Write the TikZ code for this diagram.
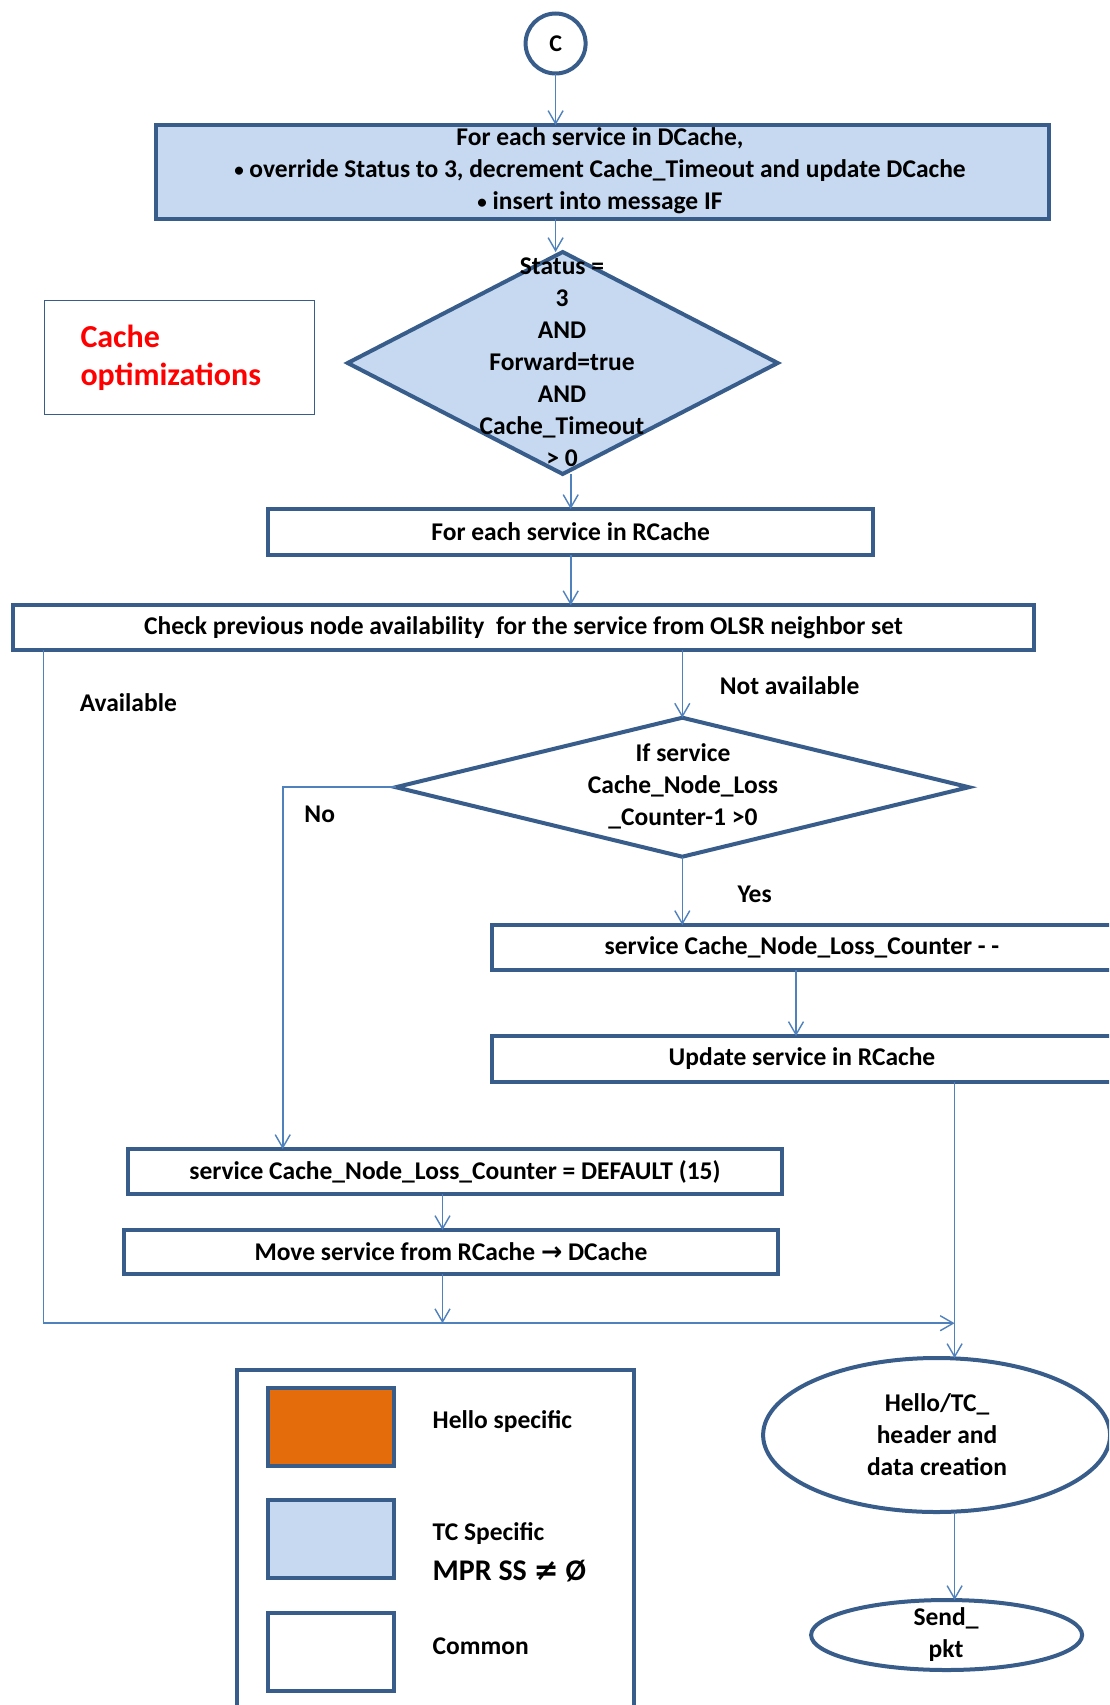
\documentclass[tikz,border=0pt]{standalone}
\usepackage{fontspec}
\setmainfont{Carlito}
\newfontfamily\symfont{DejaVu Sans}
\usetikzlibrary{arrows.meta,shapes.geometric,calc}
\definecolor{edgeblue}{HTML}{385D8A}
\definecolor{fillblue}{HTML}{C6D9F1}
\definecolor{lineblue}{HTML}{4F81BD}
\definecolor{helloorange}{HTML}{E46C0A}
\newcommand\smallbul{\raisebox{0.12ex}{\fontsize{19}{19}\selectfont•}}
\begin{document}
\begin{tikzpicture}[x=1pt,y=-1pt,
  every node/.style={font=\fontsize{25.5}{32}\selectfont\bfseries, inner sep=0pt, outer sep=0pt},
  procbox/.style={draw=edgeblue, line width=4pt, rectangle},
  tcbox/.style={procbox, fill=fillblue},
  flow/.style={draw=lineblue, line width=1.6pt, -{Straight Barb[length=13pt,width=15pt,line width=1.4pt]}},
  plain/.style={draw=lineblue, line width=1.6pt},
  txt/.style={align=center},
  lbl/.style={anchor=west}
]
\useasboundingbox (0,0) rectangle (1109,1705);
\clip (0,0) rectangle (1109,1705);
\fill[white] (0,0) rectangle (1109,1705);

% entry connector
\node[procbox, circle, minimum size=60pt, font=\fontsize{24}{28}\selectfont\bfseries] (c) at (555.6,43.5) {C};

% DCache pass
\node[tcbox, minimum width=893pt, minimum height=94pt] (dc) at (602.5,172) {};
\node[txt] (dct) at (600,171) {For each service in DCache,\\ \smallbul\ override Status to 3, decrement Cache\_Timeout and update DCache\\ \smallbul\ insert into message IF};

% first decision
\node[tcbox, diamond, minimum width=430pt, minimum height=222pt] (d1) at (562.7,363) {};
\node[txt] (d1t) at (562,362.6) {Status =\\ 3\\ AND\\ Forward=true\\ AND\\ Cache\_Timeout\\ > 0};

% note box
\node[draw=edgeblue, line width=1.6pt, minimum width=270pt, minimum height=114pt] (note) at (179.4,357.6) {};
\node[anchor=west, align=left, text=red, font=\fontsize{32}{38}\selectfont\bfseries] (notet) at (80.5,358) {Cache\\ optimizations};

% RCache pass
\node[procbox, minimum width=605pt, minimum height=46pt] (rc) at (570.7,532) {For each service in RCache};
\node[procbox, minimum width=1021pt, minimum height=45pt] (ck) at (523.5,627.7) {Check previous node availability\ \ for the service from OLSR neighbor set};

% second decision
\node[procbox, diamond, minimum width=573pt, minimum height=139pt] (d2) at (682.3,787.2) {};
\node[txt] (d2t) at (683,786.6) {If service\\ Cache\_Node\_Loss\\ \_Counter-1 >0};

% branch boxes
\node[procbox, minimum width=620pt, minimum height=45pt] (cnt) at (802,947.5) {service Cache\_Node\_Loss\_Counter - -};
\node[procbox, minimum width=620pt, minimum height=46pt] (upd) at (802,1059) {Update service in RCache};
\node[procbox, minimum width=654pt, minimum height=45pt] (dflt) at (455,1171.5) {service Cache\_Node\_Loss\_Counter = DEFAULT (15)};
\node[procbox, minimum width=654pt, minimum height=44pt] (mv) at (451,1252) {Move service from RCache {\symfont\bfseries →} DCache};

% output stages
\node[procbox, ellipse, minimum width=347pt, minimum height=154pt] (hello) at (936.6,1435) {};
\node[txt] (hellot) at (937,1434.7) {Hello/TC\_\\ header and\\ data creation};
\node[procbox, ellipse, minimum width=271pt, minimum height=70pt] (send) at (946.6,1635) {};
\node[txt] (sendt) at (946,1634.7) {Send\_\\ pkt};

% legend
\node[procbox, minimum width=397pt, minimum height=400pt] (legend) at (435.5,1570) {};
\node[procbox, fill=helloorange, minimum width=126pt, minimum height=78pt] (lgA) at (331,1427) {};
\node[procbox, fill=fillblue, minimum width=126pt, minimum height=78pt] (lgB) at (331,1539) {};
\node[procbox, fill=white, minimum width=126pt, minimum height=78pt] (lgC) at (331,1651.6) {};
\node[lbl] (lgAt) at (432.7,1422) {Hello specific};
\node[lbl] (lgBt) at (432.7,1534) {TC Specific};
\node[lbl, font=\fontsize{30}{36}\selectfont\bfseries] (lgBs) at (432.7,1571) {MPR SS {\symfont\bfseries ≠} Ø};
\node[lbl] (lgCt) at (432.7,1646) {Common};

% branch labels
\node (avail) at (128.3,702.4) {Available};
\node[lbl] (navail) at (719.8,686) {Not available};
\node (nolbl) at (319.7,814.4) {No};
\node (yeslbl) at (754.6,894.8) {Yes};

% routing points
\coordinate (joinL) at (43.5,1323.2);
\coordinate (joinR) at (954.6,1323.2);
\coordinate (nobend) at (282.7,787.2);

% connectors
\draw[flow] (c) -- (c |- dc.north);
\draw[flow] (dc.south -| c) -- (c |- d1.north);
\draw[flow] (d1.south -| rc.north) -- (rc.north);
\draw[flow] (rc.south) -- (rc.south |- ck.north);
\draw[flow] (ck.south -| d2.north) -- (d2.north);
\draw[flow] (ck.south -| joinL) -- (joinL) -- (joinR);
\draw[flow] (d2.west) -- (nobend) -- (nobend |- dflt.north);
\draw[flow] (d2.south) -- (d2.south |- cnt.north);
\draw[flow] ([xshift=-6pt]cnt.south) -- ([xshift=-6pt]upd.north);
\draw[flow] ([xshift=-8.5pt]dflt.south -| mv.north) -- ([xshift=-8.5pt]mv.north);
\draw[flow] ([xshift=-8.5pt]mv.south) -- ([xshift=-8.5pt]mv.south |- joinL);
\draw[flow] (upd.south -| joinR) -- (joinR |- hello.north);
\draw[flow] (hello.south -| joinR) -- (joinR |- send.north);
\end{tikzpicture}
\end{document}
